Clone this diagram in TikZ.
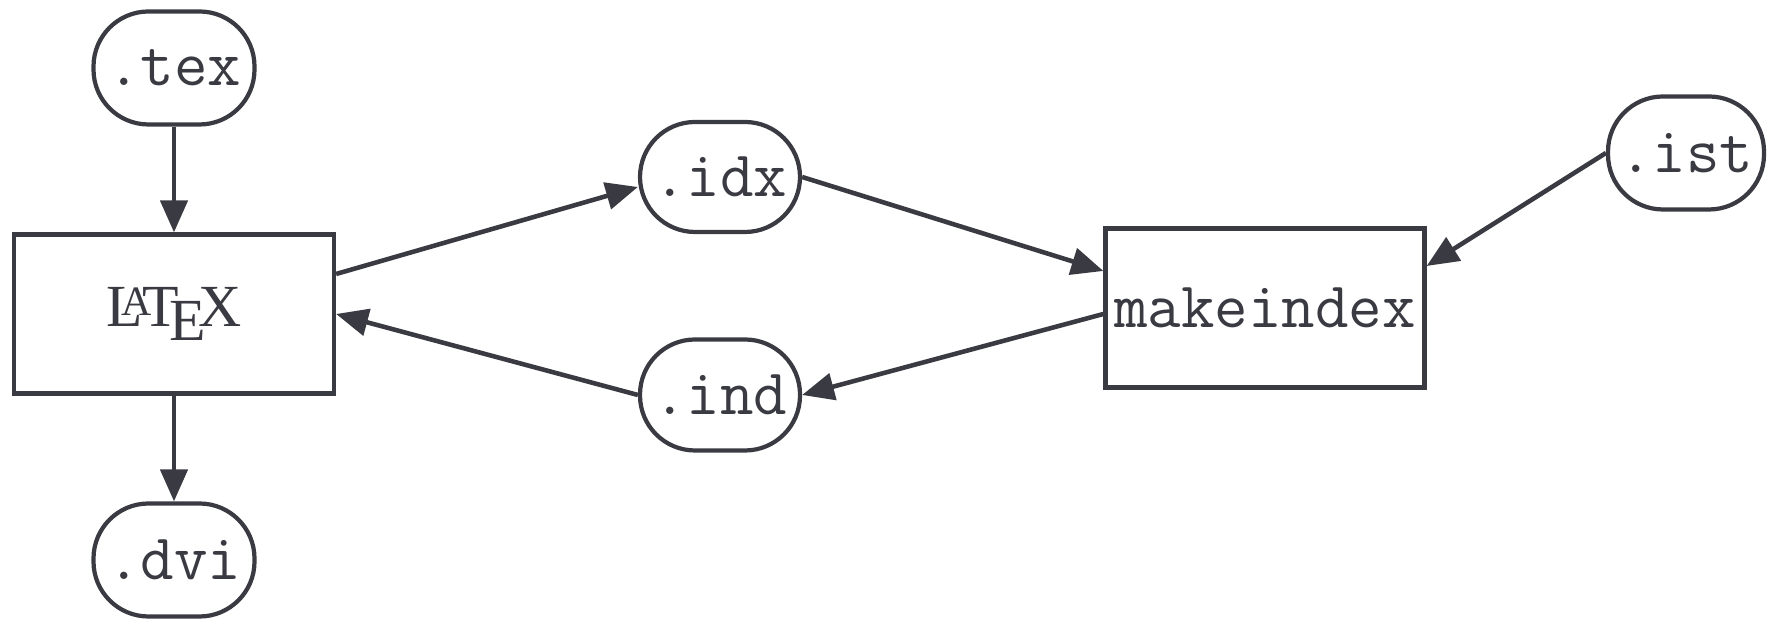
\documentclass[tikz,border=0pt]{standalone}
\usepackage{fontspec}
\setmainfont{Liberation Serif}
\usepackage[rgb]{xcolor}
\usepackage{tikz}
\usetikzlibrary{arrows.meta}
\definecolor{ink}{RGB}{58,58,66}

\begin{document}
\begin{tikzpicture}[scale=1, rotate=0,
  file/.style={draw=ink, line width=1.2pt, rounded corners=5.5mm, inner sep=0pt,
    font=\fontsize{18.5}{20}\selectfont\ttfamily, text=ink},
  prog/.style={draw=ink, line width=1.2pt, rectangle, inner sep=0pt, text=ink},
  flow/.style={-{Triangle[length=3.2mm,width=2.7mm]}, ink, line width=1.3pt}]

\useasboundingbox (0,0) rectangle (17.73,-6.19);

%% files and programs
\path
(1.74,-0.68) node[file, minimum width=1.61cm, minimum height=1.13cm](tex) {.tex}
(1.74,-3.14) node[prog, minimum width=3.2cm, minimum height=1.59cm,
  font=\fontsize{17}{19}\selectfont](latex) {\LaTeX}
(1.74,-5.60) node[file, minimum width=1.61cm, minimum height=1.13cm](dvi) {.dvi}
(7.20,-1.77) node[file, minimum width=1.60cm, minimum height=1.10cm](idx) {.idx}
(7.20,-3.95) node[file, minimum width=1.60cm, minimum height=1.11cm](ind) {.ind}
(12.65,-3.08) node[prog, minimum width=3.19cm, minimum height=1.59cm,
  font=\fontsize{18.5}{20}\selectfont\ttfamily](mkidx) {makeindex}
(16.86,-1.53) node[file, minimum width=1.56cm, minimum height=1.13cm](ist) {.ist};

%% main run
\draw[flow] (tex) -- (latex);
\draw[flow] (latex) -- (dvi);

%% index loop
\draw[flow] ([yshift=4mm]latex.east) -- ([yshift=-1mm]idx.west);
\draw[flow] (idx.east) -- ([yshift=3.7mm]mkidx.west);
\draw[flow] ([yshift=-0.6mm]mkidx.west) -- (ind.east);
\draw[flow] (ind.west) -- (latex.east);

%% style file
\draw[flow] (ist.west) -- ([yshift=4.2mm]mkidx.east);

\end{tikzpicture}
\end{document}
